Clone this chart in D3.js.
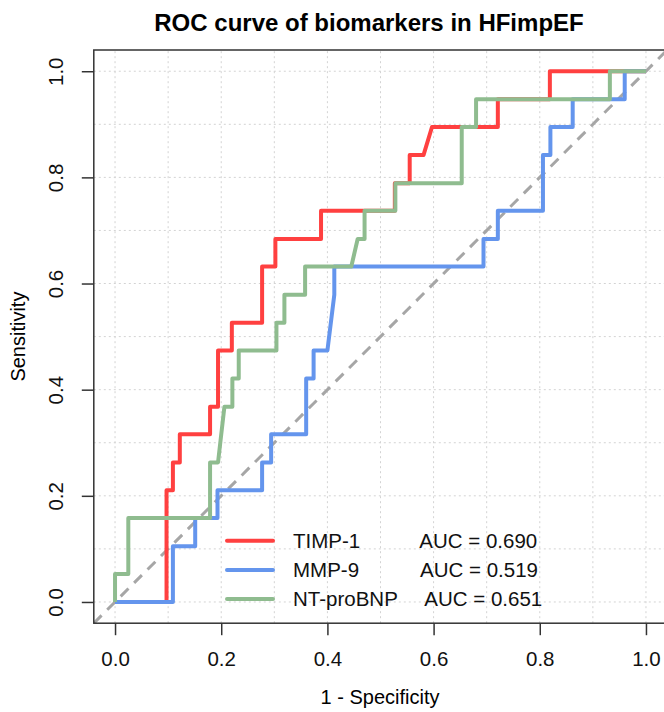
<!DOCTYPE html>
<html>
<head>
<meta charset="utf-8">
<script src="https://cdn.jsdelivr.net/npm/d3@7"></script>
<style>
body { margin: 0; background: white; }
text { font-family: "Liberation Sans", Arial, sans-serif; }
</style>
</head>
<body>
<script>
// ROC curve steps (x = 1 - specificity, y = sensitivity)
var timpX = [0, 0.097, 0.097, 0.109, 0.109, 0.122, 0.122, 0.179, 0.179, 0.194, 0.194, 0.22, 0.22, 0.277, 0.277, 0.302, 0.302, 0.388, 0.388, 0.527, 0.527, 0.555, 0.555, 0.581, 0.597, 0.721, 0.721, 0.819, 0.819, 1];
var timpY = [0, 0, 0.2105, 0.2105, 0.263, 0.263, 0.316, 0.316, 0.368, 0.368, 0.474, 0.474, 0.526, 0.526, 0.632, 0.632, 0.684, 0.684, 0.737, 0.737, 0.789, 0.789, 0.842, 0.842, 0.895, 0.895, 0.947, 0.947, 1, 1];

var mmpX = [0, 0.109, 0.109, 0.151, 0.151, 0.193, 0.193, 0.277, 0.277, 0.294, 0.294, 0.36, 0.36, 0.374, 0.374, 0.4, 0.413, 0.413, 0.694, 0.694, 0.721, 0.721, 0.806, 0.806, 0.82, 0.82, 0.862, 0.862, 0.96, 0.96, 1];
var mmpY = [0, 0, 0.105, 0.105, 0.158, 0.158, 0.2105, 0.2105, 0.263, 0.263, 0.316, 0.316, 0.421, 0.421, 0.474, 0.474, 0.579, 0.632, 0.632, 0.684, 0.684, 0.737, 0.737, 0.842, 0.842, 0.895, 0.895, 0.947, 0.947, 1, 1];

var bnpX = [0, 0, 0.025, 0.025, 0.179, 0.179, 0.194, 0.206, 0.221, 0.221, 0.233, 0.233, 0.304, 0.304, 0.319, 0.319, 0.358, 0.358, 0.445, 0.457, 0.47, 0.47, 0.528, 0.528, 0.653, 0.653, 0.68, 0.68, 0.932, 0.932, 1];
var bnpY = [0, 0.0526, 0.0526, 0.158, 0.158, 0.263, 0.263, 0.368, 0.368, 0.421, 0.421, 0.474, 0.474, 0.526, 0.526, 0.579, 0.579, 0.632, 0.632, 0.684, 0.684, 0.737, 0.737, 0.789, 0.789, 0.895, 0.895, 0.947, 0.947, 1, 1];

var names = ["TIMP-1", "MMP-9", "NT-proBNP"];
var aucs = ["AUC = 0.690", "AUC = 0.519", "AUC = 0.651"];
var colours = ["#ff4040", "#6495ed", "#8fbc8f"];
var tickVals = [0, 0.2, 0.4, 0.6, 0.8, 1.0];
var gridVals = [0, 0.1, 0.2, 0.3, 0.4, 0.5, 0.6, 0.7, 0.8, 0.9, 1.0];

var series = [
	{x: timpX, y: timpY},
	{x: mmpX, y: mmpY},
	{x: bnpX, y: bnpY}
];

/*workspace*/
var svg = d3.select("body").append("svg")
	.attr("width", 664).attr("height", 712);

/*scales: R style 4% padding on each side*/
var x = d3.scaleLinear().domain([-0.04, 1.04]).range([93.8, 667.2]);
var y = d3.scaleLinear().domain([-0.04, 1.04]).range([623.2, 50]);

svg.append("clipPath").attr("id", "plotclip")
	.append("rect")
	.attr("x", x(-0.04)).attr("y", y(1.04))
	.attr("width", x(1.04) - x(-0.04)).attr("height", y(-0.04) - y(1.04));

var plot = svg.append("g").attr("clip-path", "url(#plotclip)");

/*grid*/
plot.selectAll(".vgrid").data(gridVals).enter().append("line")
	.attr("x1", function(d){return x(d);}).attr("x2", function(d){return x(d);})
	.attr("y1", y(-0.04)).attr("y2", y(1.04))
	.style("stroke", "#d3d3d3").style("stroke-width", 1).style("stroke-dasharray", "2,3");
plot.selectAll(".hgrid").data(gridVals).enter().append("line")
	.attr("y1", function(d){return y(d);}).attr("y2", function(d){return y(d);})
	.attr("x1", x(-0.04)).attr("x2", x(1.04))
	.style("stroke", "#d3d3d3").style("stroke-width", 1).style("stroke-dasharray", "2,3");

/*reference diagonal*/
plot.append("line")
	.attr("x1", x(-0.04)).attr("y1", y(-0.04))
	.attr("x2", x(1.04)).attr("y2", y(1.04))
	.style("stroke", "#a6a6a6").style("stroke-width", 3).style("stroke-dasharray", "11,8");

/*roc curves*/
var line = d3.line()
	.x(function(d){return x(d[0]);})
	.y(function(d){return y(d[1]);});

series.forEach(function(s, i){
	var pts = s.x.map(function(v, j){return [v, s.y[j]];});
	plot.append("path")
		.attr("d", line(pts))
		.attr("fill", "none")
		.attr("stroke", colours[i])
		.attr("stroke-width", 4)
		.attr("stroke-linejoin", "round");
});

/*box*/
svg.append("rect")
	.attr("x", x(-0.04)).attr("y", y(1.04))
	.attr("width", x(1.04) - x(-0.04)).attr("height", y(-0.04) - y(1.04))
	.attr("fill", "none").attr("stroke", "#333").attr("stroke-width", 1.5);

/*axes*/
var xAxis = d3.axisBottom(x).tickValues(tickVals).tickSize(12).tickPadding(16)
	.tickFormat(d3.format(".1f"));
var gx = svg.append("g").attr("transform", "translate(0," + y(-0.04) + ")").call(xAxis);
gx.select(".domain").remove();
gx.selectAll(".tick line").attr("stroke", "#333").attr("stroke-width", 1.5);
gx.selectAll(".tick text").attr("font-size", 20.5).attr("fill", "#111")
	.attr("font-family", "Liberation Sans, Arial, sans-serif");

var yAxis = d3.axisLeft(y).tickValues(tickVals).tickSize(12).tickFormat(d3.format(".1f"));
var gy = svg.append("g").attr("transform", "translate(" + x(-0.04) + ",0)").call(yAxis);
gy.select(".domain").remove();
gy.selectAll(".tick line").attr("stroke", "#333").attr("stroke-width", 1.5);
gy.selectAll(".tick text")
	.attr("font-size", 20.5).attr("fill", "#111")
	.attr("font-family", "Liberation Sans, Arial, sans-serif")
	.attr("text-anchor", "middle")
	.attr("x", 0).attr("dy", 0)
	.attr("transform", "translate(-38,0) rotate(-90)")
	.attr("y", 0);
gy.selectAll(".tick text").attr("dominant-baseline", "central");

/*titles*/
svg.append("text")
	.attr("x", 369).attr("y", 31)
	.attr("text-anchor", "middle")
	.attr("font-size", 24).attr("font-weight", "bold")
	.text("ROC curve of biomarkers in HFimpEF");

svg.append("text")
	.attr("x", 380).attr("y", 704)
	.attr("text-anchor", "middle")
	.attr("font-size", 20)
	.text("1 - Specificity");

svg.append("text")
	.attr("transform", "translate(25," + y(0.5) + ") rotate(-90)")
	.attr("text-anchor", "middle")
	.attr("font-size", 20)
	.text("Sensitivity");

/*legend*/
var legendY = [540.7, 570, 599];
var aucX = [419.3, 420, 424.3];
var legend = svg.selectAll(".legend").data(names).enter().append("g");
legend.append("line")
	.attr("x1", 227).attr("x2", 273)
	.attr("y1", function(d, i){return legendY[i];}).attr("y2", function(d, i){return legendY[i];})
	.attr("stroke", function(d, i){return colours[i];})
	.attr("stroke-width", 4).attr("stroke-linecap", "round");
legend.append("text")
	.attr("x", 293).attr("y", function(d, i){return legendY[i] + 7;})
	.attr("font-size", 20.5).attr("fill", "#111")
	.text(function(d){return d;});
legend.append("text")
	.attr("x", function(d, i){return aucX[i];}).attr("y", function(d, i){return legendY[i] + 7;})
	.attr("font-size", 20.5).attr("fill", "#111")
	.text(function(d, i){return aucs[i];});
</script>
</body>
</html>
